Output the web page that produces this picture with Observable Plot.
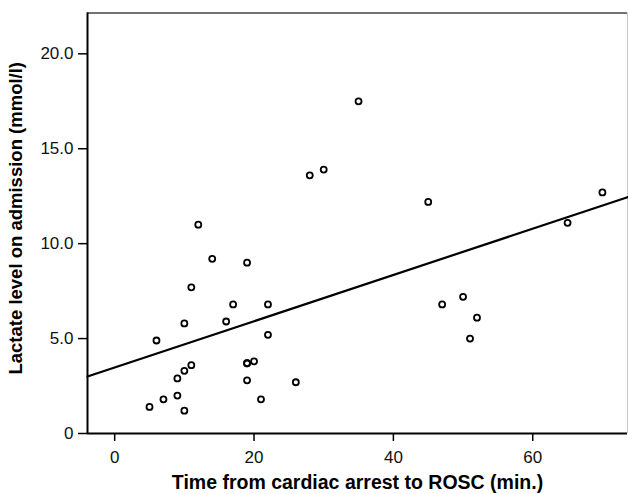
<!DOCTYPE html>
<html><head><meta charset="utf-8">
<script src="https://cdn.jsdelivr.net/npm/d3@7"></script>
<script src="https://cdn.jsdelivr.net/npm/@observablehq/plot@0.6"></script>
<style>body{margin:0;background:#fff}</style>
</head><body><div id="chart"></div>
<script>
const timeToROSC = [5, 6, 7, 9, 9, 10, 10, 10, 11, 11, 12, 14, 16, 17, 19, 19, 19, 19, 20, 21, 22, 22, 26, 28, 30, 35, 45, 47, 50, 51, 52, 65, 70];
const lactate    = [1.4, 4.9, 1.8, 2.9, 2.0, 1.2, 5.8, 3.3, 3.6, 7.7, 11.0, 9.2, 5.9, 6.8, 9.0, 3.7, 3.7, 2.8, 3.8, 1.8, 5.2, 6.8, 2.7, 13.6, 13.9, 17.5, 12.2, 6.8, 7.2, 5.0, 6.1, 11.1, 12.7];
const xTicks = [0, 20, 40, 60];
const yTicks = [0, 5, 10, 15, 20];
const xDomain = [-3.9, 73.6];
const yDomain = [0, 22.15];
const xLabel = "Time from cardiac arrest to ROSC (min.)";
const yLabel = "Lactate level on admission (mmol/l)";

const data = timeToROSC.map((x, i) => ({x, y: lactate[i]}));
const mx = d3.mean(timeToROSC), my = d3.mean(lactate);
const slope = d3.sum(data, d => (d.x - mx) * (d.y - my)) / d3.sum(data, d => (d.x - mx) ** 2);
const intercept = my - slope * mx;
const fit = xDomain.map(x => ({x, y: intercept + slope * x}));

const chart = Plot.plot({
  width: 628, height: 494,
  marginLeft: 87, marginRight: 1, marginTop: 12.5, marginBottom: 61,
  x: {domain: xDomain},
  y: {domain: yDomain},
  style: {fontFamily: "'Liberation Sans', Arial, sans-serif", fontSize: "17px", color: "#111", background: "white", overflow: "visible"},
  marks: [
    Plot.ruleY([yDomain[1]], {stroke: "#444", strokeWidth: 1.5}),
    Plot.ruleX([xDomain[1]], {stroke: "#c8c8c8", strokeWidth: 1}),
    Plot.line(fit, {x: "x", y: "y", stroke: "black", strokeWidth: 2.2}),
    Plot.dot(data, {x: "x", y: "y", r: 3, stroke: "black", strokeWidth: 1.8, fill: "none"}),
    Plot.ruleX([xDomain[0]], {stroke: "black", strokeWidth: 2}),
    Plot.ruleY([0], {stroke: "black", strokeWidth: 2}),
    Plot.axisX({ticks: xTicks, tickSize: 8, tickPadding: 9, label: null, strokeWidth: 1.5, stroke: "black"}),
    Plot.axisY({ticks: yTicks, tickSize: 9, tickPadding: 5, label: null, strokeWidth: 1.5, stroke: "black",
      tickFormat: d => d === 0 ? "0" : d.toFixed(1)}),
    Plot.text([xLabel], {text: d => d, frameAnchor: "bottom", textAnchor: "middle", dy: 55, fontWeight: "bold", fontSize: 19.5, fill: "black"}),
    Plot.text([yLabel], {text: d => d, frameAnchor: "left", textAnchor: "middle", rotate: -90, dx: -71, dy: -5, fontWeight: "bold", fontSize: 18.5, fill: "black"})
  ]
});
document.getElementById("chart").appendChild(chart);
</script>
</body></html>
